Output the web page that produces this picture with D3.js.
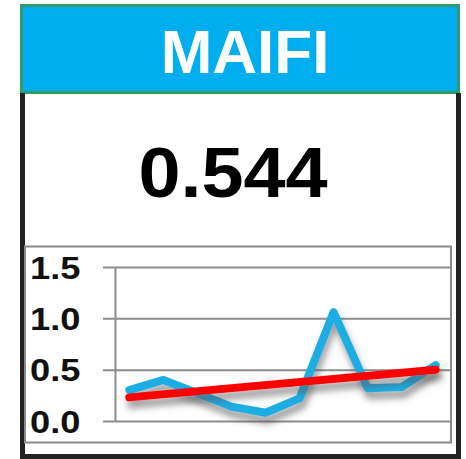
<!DOCTYPE html>
<html>
<head>
<meta charset="utf-8">
<script src="https://cdn.jsdelivr.net/npm/d3@7"></script>
<style>
  html, body { margin: 0; padding: 0; background: #fff; }
  svg { display: block; }
  text { font-family: "Liberation Sans", Arial, sans-serif; font-weight: bold; }
</style>
</head>
<body>
<svg id="chart" width="466" height="459"></svg>
<script>
// ---- data ----
const title = "MAIFI";
const headline = "0.544";
const periods = ["P1","P2","P3","P4","P5","P6","P7","P8","P9","P10"];
const values = [0.30, 0.40, 0.27, 0.14, 0.08, 0.22, 1.06, 0.32, 0.33, 0.544];
const trendEnds = [0.23, 0.50];           // trend line at first and last period
const yTicks = [0.0, 0.5, 1.0, 1.5];

const svg = d3.select("#chart");
const defs = svg.append("defs");
const f = defs.append("filter").attr("id", "shadow")
  .attr("x", "-10%").attr("y", "-50%").attr("width", "120%").attr("height", "250%");
f.append("feDropShadow").attr("dx", 2).attr("dy", 7).attr("stdDeviation", 3.5)
  .attr("flood-color", "#555").attr("flood-opacity", 0.6);

// ---- header ----
svg.append("rect").attr("x", 21.5).attr("y", 5.5).attr("width", 437).attr("height", 87)
  .attr("fill", "#00aeef").attr("stroke", "#2f9a6c").attr("stroke-width", 3);
svg.append("text").attr("x", 245).attr("y", 73).attr("text-anchor", "middle")
  .attr("font-size", 62).attr("fill", "#fff").text(title);

// ---- body frame ----
svg.append("path").attr("d", "M22.5,93 V456.5 H458.5 V93")
  .attr("fill", "none").attr("stroke", "#222").attr("stroke-width", 5);

svg.append("text").attr("x", 233).attr("y", 197).attr("text-anchor", "middle")
  .attr("font-size", 70).attr("fill", "#000")
  .attr("transform", "translate(233,0) scale(1.08,1) translate(-233,0)")
  .text(headline);

// ---- chart frame ----
svg.append("rect").attr("x", 25).attr("y", 246.5).attr("width", 426).attr("height", 196)
  .attr("fill", "#fff").attr("stroke", "#8a8a8a").attr("stroke-width", 2);

const x = d3.scalePoint().domain(periods).range([115, 450]).padding(0.42);
const y = d3.scaleLinear().domain([0, 1.5]).range([421, 267]);

// gridlines
const grid = svg.append("g").attr("transform", "translate(450,0)")
  .call(d3.axisLeft(y).tickValues(yTicks).tickSize(347).tickFormat(""));
grid.select(".domain").remove();
grid.selectAll(".tick line").attr("stroke", "#8c8c8c").attr("stroke-width", 2);

// y axis
const yAxis = svg.append("g").attr("transform", "translate(115,0)")
  .call(d3.axisLeft(y).tickValues(yTicks).tickSize(0).tickFormat(d3.format(".1f")));
yAxis.select(".domain").attr("stroke", "#8c8c8c").attr("stroke-width", 2);
yAxis.selectAll(".tick text")
  .attr("x", -85).attr("dy", "0.36em").attr("text-anchor", "start")
  .attr("font-size", 31).attr("fill", "#111")
  .attr("font-family", "'Liberation Sans', Arial, sans-serif").attr("font-weight", "bold")
  .attr("transform", "translate(-85,0) scale(1.17,1) translate(85,0)");

// series
const line = d3.line().x((d, i) => x(periods[i])).y(d => y(d));
svg.append("path").datum(values).attr("d", line)
  .attr("fill", "none").attr("stroke", "#1aade3").attr("stroke-width", 8)
  .attr("stroke-linejoin", "round").attr("stroke-linecap", "round")
  .attr("filter", "url(#shadow)");

const trendLine = d3.line().x(d => x(d[0])).y(d => y(d[1]));
svg.append("path")
  .datum([[periods[0], trendEnds[0]], [periods[periods.length - 1], trendEnds[1]]])
  .attr("d", trendLine)
  .attr("fill", "none").attr("stroke", "#ff0000").attr("stroke-width", 8)
  .attr("stroke-linecap", "round")
  .attr("filter", "url(#shadow)");
</script>
</body>
</html>
